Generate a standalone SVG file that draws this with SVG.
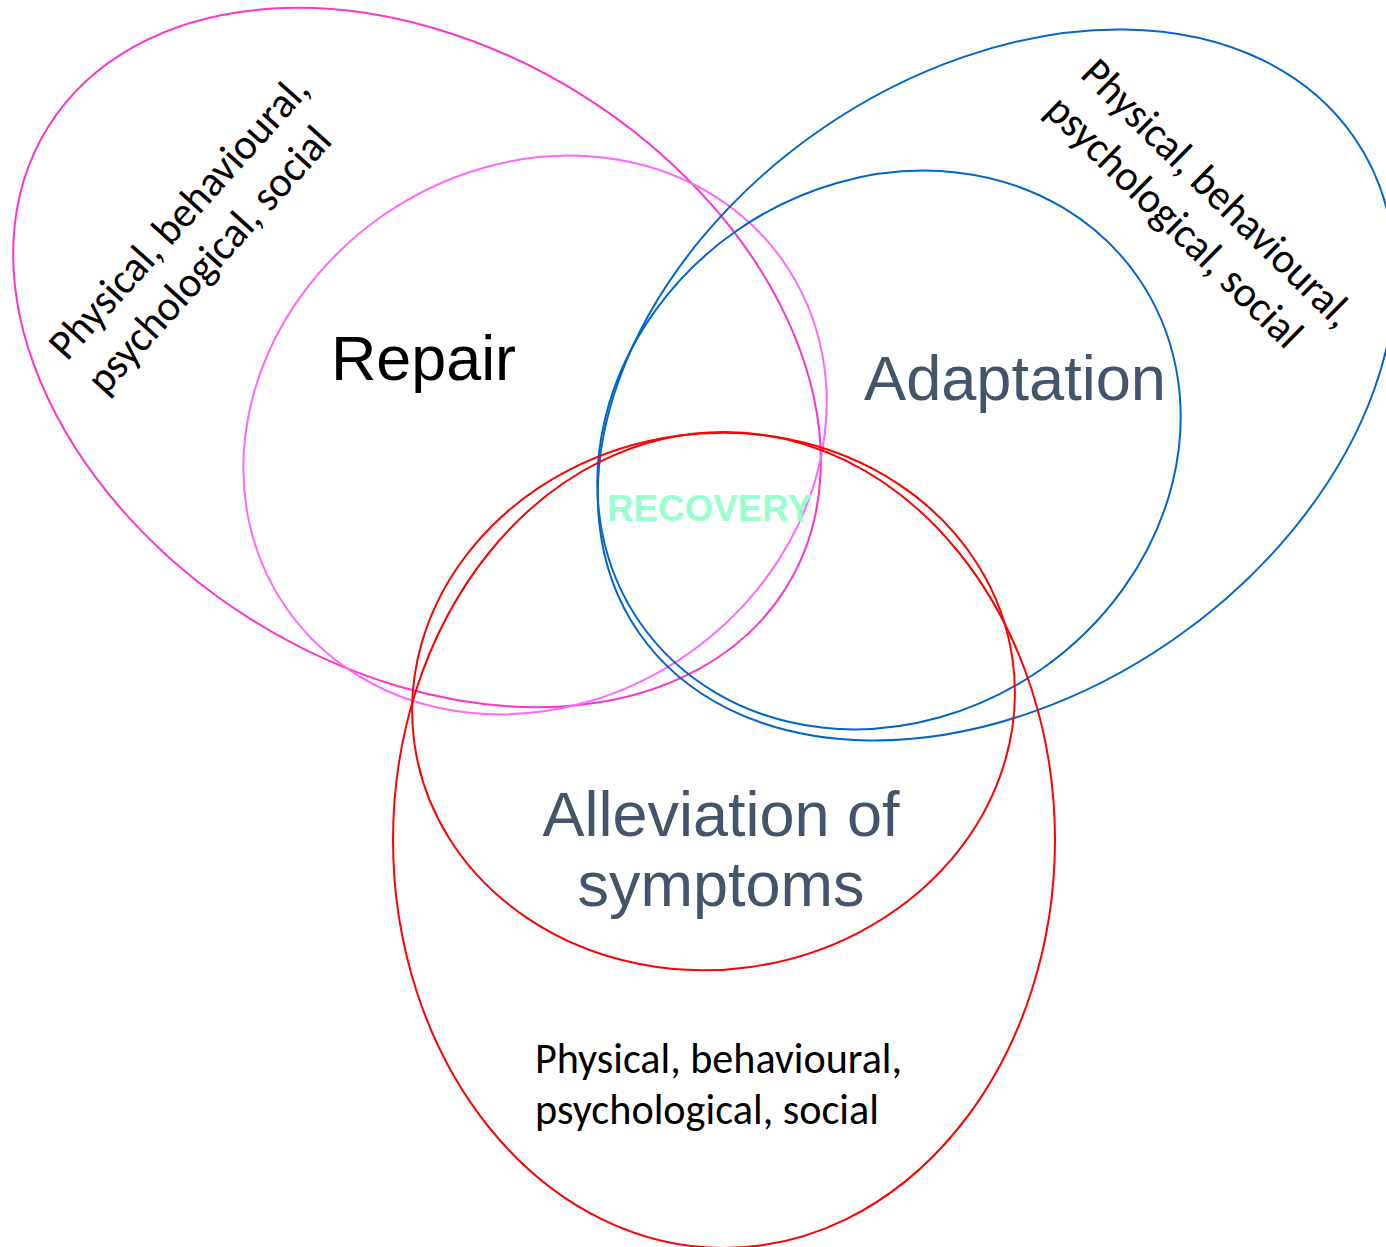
<svg xmlns="http://www.w3.org/2000/svg" width="1386" height="1247" viewBox="0 0 1386 1247">
<style>
.e{fill:none;stroke-width:2}
.pk{stroke:#FF33CC}
.pl{stroke:#FF66FF}
.bl{stroke:#0066CC}
.rd{stroke:#FF0000}
.big{font-family:"Liberation Sans",Arial,sans-serif;font-size:63px}
.small{font-family:Carlito,Calibri,Lato,"Liberation Sans",sans-serif;font-size:43px;fill:#000}
.rec{font-family:"Liberation Sans",Arial,sans-serif;font-size:36px;font-weight:bold;fill:#99FFCC}
</style>
<rect width="1386" height="1247" fill="#fff"/>
<g id="shapes">
<g id="repair-outer"><ellipse class="e pk" cx="0" cy="0" rx="435" ry="310" transform="translate(417 357.5) rotate(32)"/></g>
<g id="repair-inner"><ellipse class="e pl" cx="0" cy="0" rx="303" ry="267" transform="translate(535 435) rotate(-35)"/></g>
<g id="adaptation-outer"><ellipse class="e bl" cx="0" cy="0" rx="435" ry="310" transform="translate(996.5 385) rotate(-34.75)"/></g>
<g id="adaptation-inner"><ellipse class="e bl" cx="0" cy="0" rx="303" ry="267" transform="translate(889 450) rotate(-35)"/></g>
<g id="alleviation-outer"><ellipse class="e rd" cx="724" cy="840" rx="331" ry="408"/></g>
<g id="alleviation-inner"><ellipse class="e rd" cx="0" cy="0" rx="302" ry="268" transform="translate(713.5 701.5) rotate(-8)"/></g>
</g>
<g id="labels">
<g id="repair-label"><text class="big" x="331" y="380" fill="#000" textLength="185" lengthAdjust="spacingAndGlyphs">Repair</text></g>
<g id="adaptation-label"><text class="big" x="864" y="400" fill="#44546A" textLength="302" lengthAdjust="spacingAndGlyphs">Adaptation</text></g>
<g id="alleviation-label"><text class="big" fill="#44546A" text-anchor="middle"><tspan x="721" y="836">Alleviation of</tspan><tspan x="721" y="906">symptoms</tspan></text></g>
<g id="recovery-label"><text class="rec" x="607" y="521" textLength="205" lengthAdjust="spacingAndGlyphs">RECOVERY</text></g>
<g id="repair-dims"><text class="small" transform="translate(67 362) rotate(-48)"><tspan x="0" y="0" textLength="365" lengthAdjust="spacingAndGlyphs">Physical, behavioural,</tspan><tspan x="0" y="51" textLength="342" lengthAdjust="spacingAndGlyphs">psychological, social</tspan></text></g>
<g id="adaptation-dims"><text class="small" transform="translate(1079 76) rotate(44.5)"><tspan x="0" y="0" textLength="362" lengthAdjust="spacingAndGlyphs">Physical, behavioural,</tspan><tspan x="0" y="51" textLength="340" lengthAdjust="spacingAndGlyphs">psychological, social</tspan></text></g>
<g id="alleviation-dims"><text class="small"><tspan x="535" y="1073" textLength="367" lengthAdjust="spacingAndGlyphs">Physical, behavioural,</tspan><tspan x="535" y="1124" textLength="344" lengthAdjust="spacingAndGlyphs">psychological, social</tspan></text></g>
</g>
<g id="connectors"/>
</svg>
